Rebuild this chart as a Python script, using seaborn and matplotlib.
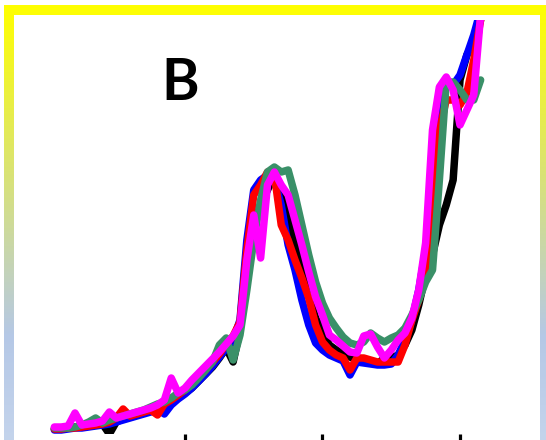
import numpy as np
import pandas as pd
import matplotlib
matplotlib.use("Agg")
import matplotlib.pyplot as plt
import seaborn as sns

# 스펙트럼 데이터 (파장 / 흡광도) - 그림에서 읽은 값
wavelength = list(range(205, 520, 5))

black = [0.025, 0.025, 0.03, 0.035, 0.04, 0.04, 0.045, 0.05, 0.0, 0.06,
         0.075, 0.085, 0.095, 0.105, 0.115, 0.125, 0.14, 0.155, 0.18, 0.205,
         0.23, 0.265, 0.30, 0.335, 0.38, 0.43, 0.36, 0.52, 0.77, 1.045,
         1.145, 1.22, 1.295, 1.22, 1.095, 0.945, 0.83, 0.695, 0.58, 0.51,
         0.445, 0.42, 0.40, 0.385, 0.37, 0.37, 0.36, 0.35, 0.38, 0.38,
         0.395, 0.445, 0.52, 0.645, 0.795, 0.895, 1.045, 1.145, 1.27, 1.77,
         1.895, 1.96, 2.07]
blue = [0.02, 0.02, 0.025, 0.03, 0.03, 0.035, 0.04, 0.045, 0.05, 0.06,
        0.07, 0.08, 0.09, 0.10, 0.11, 0.125, 0.10, 0.145, 0.175, 0.20,
        0.23, 0.265, 0.30, 0.34, 0.385, 0.43, 0.47, 0.57, 0.97, 1.22,
        1.27, 1.295, 1.27, 1.145, 0.945, 0.82, 0.67, 0.545, 0.455, 0.42,
        0.395, 0.38, 0.365, 0.295, 0.36, 0.355, 0.35, 0.345, 0.345, 0.35,
        0.395, 0.47, 0.57, 0.72, 0.92, 1.22, 1.62, 1.77, 1.745, 1.795,
        1.895, 1.995, 2.12]
red = [0.025, 0.025, 0.03, 0.03, 0.035, 0.04, 0.045, 0.05, 0.06, 0.08,
       0.125, 0.09, 0.10, 0.11, 0.12, 0.095, 0.15, 0.17, 0.195, 0.22,
       0.25, 0.285, 0.32, 0.36, 0.40, 0.45, 0.49, 0.56, 0.92, 1.195,
       1.245, 1.31, 1.295, 1.045, 0.97, 0.87, 0.78, 0.68, 0.545, 0.46,
       0.42, 0.395, 0.38, 0.32, 0.38, 0.38, 0.37, 0.36, 0.36, 0.36,
       0.36, 0.445, 0.57, 0.67, 0.795, 1.17, 1.52, 1.67, 1.67, 1.645,
       1.705, 1.87, 2.07]
green = [0.03, 0.03, 0.03, 0.035, 0.045, 0.06, 0.08, 0.055, 0.07, 0.08,
         0.09, 0.10, 0.11, 0.12, 0.135, 0.15, 0.16, 0.18, 0.205, 0.22,
         0.245, 0.28, 0.32, 0.36, 0.445, 0.48, 0.37, 0.495, 0.72, 0.97,
         1.17, 1.31, 1.335, 1.31, 1.32, 1.195, 1.045, 0.895, 0.76, 0.655,
         0.58, 0.53, 0.485, 0.455, 0.445, 0.46, 0.505, 0.48, 0.46, 0.48,
         0.495, 0.53, 0.595, 0.67, 0.76, 0.82, 1.27, 1.76, 1.76, 1.72,
         1.67, 1.67, 1.77]
magenta = [0.035, 0.035, 0.04, 0.105, 0.045, 0.05, 0.055, 0.065, 0.11, 0.08,
           0.09, 0.10, 0.11, 0.12, 0.13, 0.145, 0.17, 0.28, 0.205, 0.23,
           0.27, 0.305, 0.34, 0.375, 0.41, 0.45, 0.49, 0.545, 0.87, 1.095,
           0.88, 1.245, 1.31, 1.245, 1.195, 1.07, 0.945, 0.81, 0.685, 0.595,
           0.495, 0.47, 0.44, 0.41, 0.405, 0.49, 0.50, 0.435, 0.38, 0.42,
           0.47, 0.505, 0.58, 0.72, 0.955, 1.52, 1.735, 1.785, 1.72, 1.545,
           1.62, 1.695, 2.095]

series_names = ["black", "blue", "red", "green", "magenta"]
series_colors = ["#000000", "#0000ff", "#ff0000", "#3a9068", "#ff00ff"]
x_ticks = [300, 400, 500]

frames = []
for name, vals in zip(series_names, [black, blue, red, green, magenta]):
    frames.append(pd.DataFrame({"wavelength": wavelength, "absorbance": vals, "sample": name}))
df = pd.concat(frames, ignore_index=True)

sns.set_style("white")
plt.rcParams["lines.solid_capstyle"] = "round"
plt.rcParams["lines.solid_joinstyle"] = "round"

W, H = 546, 440
fig = plt.figure(figsize=(W / 100, H / 100), dpi=100)

# 테두리 (노랑 -> 하늘색 그라데이션)
top = np.array([255, 255, 0]) / 255
mid = np.array([181, 200, 230]) / 255
bot = np.array([196, 212, 236]) / 255
rows = np.arange(H)
t1 = np.clip((rows - 5) / 330, 0, 1)[:, None]
t2 = np.clip((rows - 335) / 105, 0, 1)[:, None]
col = np.where(rows[:, None] < 335, top * (1 - t1) + mid * t1, mid * (1 - t2) + bot * t2)
img = np.ones((H, W, 3))
grad = np.repeat(col[:, None, :], W, axis=1)
mask = np.zeros((H, W), dtype=bool)
mask[5:, 4:] = True
mask[15:, 14:540] = False
img[mask] = grad[mask]
bg = fig.add_axes([0, 0, 1, 1])
bg.imshow(img, extent=[0, W, H, 0], aspect="auto", interpolation="bilinear")
bg.axis("off")

# 스펙트럼
ax = fig.add_axes([40 / W, 6 / H, 460 / W, 414 / H])
ax.patch.set_alpha(0)
sns.lineplot(data=df, x="wavelength", y="absorbance", hue="sample",
             hue_order=series_names, palette=series_colors, sort=False,
             estimator=None, linewidth=5.4, legend=False, ax=ax)
ax.set_xlim(194.55, 529.09)
ax.set_ylim(0, 2.07)
for s in ax.spines.values():
    s.set_visible(False)
ax.set_xticks(x_ticks)
ax.set_xticklabels([])
ax.set_yticks([])
ax.tick_params(axis="x", bottom=True, direction="out", length=8, width=2.3, color="black")
ax.set_xlabel("")
ax.set_ylabel("")

fig.text(180 / W, 1 - 83 / H, "B", fontsize=41, fontweight="bold", color="black",
         family=["Lato", "DejaVu Sans"], ha="center", va="center")

fig.savefig("out.png", dpi=100)
